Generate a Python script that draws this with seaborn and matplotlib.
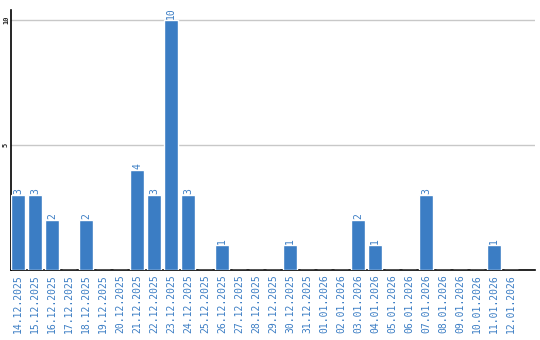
import matplotlib
matplotlib.use("Agg")
import matplotlib.pyplot as plt
import seaborn as sns
import pandas as pd

dates = ["14.12.2025", "15.12.2025", "16.12.2025", "17.12.2025", "18.12.2025",
         "19.12.2025", "20.12.2025", "21.12.2025", "22.12.2025", "23.12.2025",
         "24.12.2025", "25.12.2025", "26.12.2025", "27.12.2025", "28.12.2025",
         "29.12.2025", "30.12.2025", "31.12.2025", "01.01.2026", "02.01.2026",
         "03.01.2026", "04.01.2026", "05.01.2026", "06.01.2026", "07.01.2026",
         "08.01.2026", "09.01.2026", "10.01.2026", "11.01.2026", "12.01.2026"]
counts = [3, 3, 2, 0, 2, 0, 0, 4, 3, 10, 3, 0, 1, 0, 0, 0, 1, 0, 0, 0,
          2, 1, 0, 0, 3, 0, 0, 0, 1, 0]
yticks = [5, 10]

blue = "#3b7dc4"
sns.set_style("white")
df = pd.DataFrame({"date": dates, "count": counts})

fig = plt.figure(figsize=(5.4, 3.4), dpi=100)
ax = fig.add_axes([11/540, 70/340, 524/540, 260/340])
sns.barplot(data=df, x="date", y="count", color=blue, saturation=1,
            width=0.82, ax=ax, zorder=3)

ax.set_xlim(-0.41, 30.4)
ax.set_ylim(0, 10.4)
ax.set_yticks(yticks)
ax.set_yticklabels([str(t) for t in yticks], rotation=90, va="center",
                   fontsize=5, family="DejaVu Sans Mono", fontweight="bold")
ax.grid(axis="y", color="#c8c8c8", linewidth=1, zorder=0)
ax.set_xlabel("")
ax.set_ylabel("")
ax.tick_params(axis="x", length=0, pad=3, labelcolor=blue)
ax.tick_params(axis="y", length=0, pad=1.5)
for lbl in ax.get_xticklabels():
    lbl.set_rotation(90)
    lbl.set_fontsize(7)
    lbl.set_family("DejaVu Sans Mono")
    lbl.set_va("top")

for s in ["top", "right"]:
    ax.spines[s].set_visible(False)
for s in ["left", "bottom"]:
    ax.spines[s].set_color("black")
    ax.spines[s].set_linewidth(1.2)

labels = [str(c) if c > 0 else "" for c in counts]
ax.bar_label(ax.containers[0], labels=labels, rotation=90, color=blue,
             fontsize=7, family="DejaVu Sans Mono", padding=1)

fig.savefig("out.png", dpi=100)
